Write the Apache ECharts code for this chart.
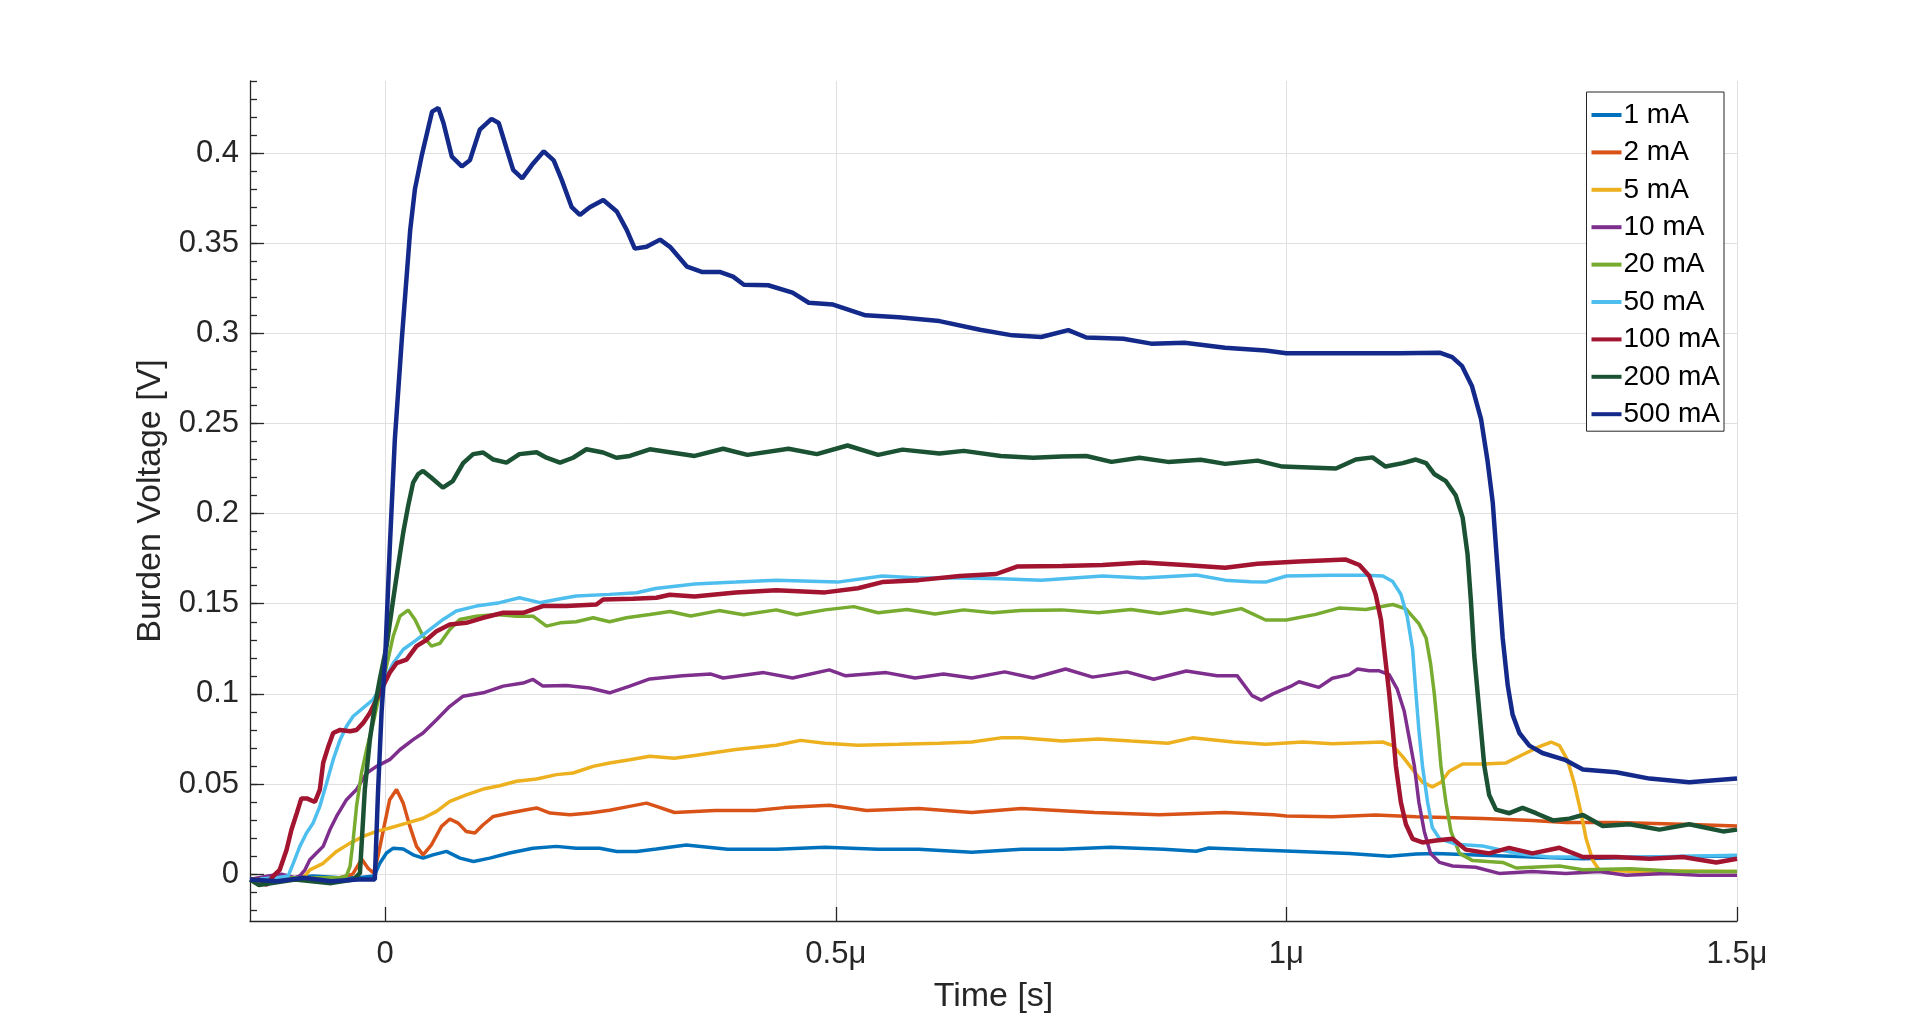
<!DOCTYPE html>
<html>
<head>
<meta charset="utf-8">
<script src="https://cdn.jsdelivr.net/npm/echarts@6/dist/echarts.min.js"></script>
<style>
html,body{margin:0;padding:0;background:#fff;}
#chart{width:1920px;height:1036px;}
</style>
</head>
<body>
<div id="chart"></div>
<script>
// time in microseconds, voltage in volts
const seriesNames = ['1 mA','2 mA','5 mA','10 mA','20 mA','50 mA','100 mA','200 mA','500 mA'];
const seriesColors = ['#0072BD','#D95319','#EDB120','#7E2F8E','#77AC30','#4DBEEE','#A2142F','#1B5234','#142A8A'];
const xTicks = [0, 0.5, 1, 1.5];
const yMajorTicks = [0, 0.05, 0.1, 0.15, 0.2, 0.25, 0.3, 0.35, 0.4];
const yMinorTicks = [-0.02,-0.01,0,0.01,0.02,0.03,0.04,0.05,0.06,0.07,0.08,0.09,0.1,0.11,0.12,0.13,0.14,0.15,0.16,0.17,0.18,0.19,0.2,0.21,0.22,0.23,0.24,0.25,0.26,0.27,0.28,0.29,0.3,0.31,0.32,0.33,0.34,0.35,0.36,0.37,0.38,0.39,0.4,0.41,0.42,0.43,0.44];

const s1 = [[-0.15,-0.003],[-0.1,-0.002],[-0.08,-0.001],[-0.05,-0.002],[-0.03,-0.002],[-0.012,-0.001],[-0.006,0.006],[0.0015,0.0117],[0.009,0.0144],[0.02,0.0139],[0.031,0.0107],[0.042,0.0089],[0.053,0.0107],[0.068,0.0126],[0.083,0.0089],[0.098,0.007],[0.116,0.0089],[0.138,0.0117],[0.164,0.0144],[0.19,0.0154],[0.212,0.0144],[0.238,0.0144],[0.257,0.0126],[0.279,0.0126],[0.301,0.0139],[0.334,0.0162],[0.38,0.0138],[0.434,0.0138],[0.488,0.0149],[0.547,0.0138],[0.592,0.0138],[0.651,0.0122],[0.706,0.0138],[0.751,0.0138],[0.805,0.0149],[0.864,0.0138],[0.9,0.0127],[0.914,0.0145],[0.955,0.0136],[1.014,0.0126],[1.07,0.0115],[1.114,0.0099],[1.144,0.0112],[1.166,0.0115],[1.218,0.0105],[1.273,0.0095],[1.329,0.0085],[1.403,0.0095],[1.5,0.01]];
const s2 = [[-0.15,-0.003],[-0.1,-0.002],[-0.05,-0.002],[-0.036,0.0],[-0.026,0.0083],[-0.019,0.0033],[-0.013,0.0006],[-0.008,0.0098],[-0.002,0.0246],[0.005,0.0413],[0.0126,0.0469],[0.02,0.0394],[0.0274,0.0265],[0.0348,0.0154],[0.042,0.0107],[0.0514,0.0163],[0.0625,0.0265],[0.0717,0.0306],[0.081,0.0283],[0.09,0.0237],[0.0995,0.0228],[0.1087,0.0274],[0.12,0.032],[0.138,0.0339],[0.157,0.0357],[0.168,0.0367],[0.183,0.0339],[0.205,0.033],[0.227,0.0339],[0.249,0.0354],[0.271,0.0376],[0.29,0.0394],[0.301,0.0376],[0.321,0.0342],[0.366,0.0353],[0.411,0.0353],[0.443,0.0369],[0.493,0.0382],[0.534,0.0353],[0.592,0.0364],[0.651,0.0342],[0.706,0.0364],[0.787,0.0342],[0.859,0.033],[0.932,0.0342],[0.986,0.033],[1.0,0.0322],[1.051,0.0318],[1.099,0.0328],[1.144,0.0318],[1.218,0.0308],[1.273,0.0298],[1.31,0.0287],[1.366,0.0287],[1.44,0.0277],[1.5,0.0267]];
const s5 = [[-0.15,-0.003],[-0.1,-0.002],[-0.089,-0.001],[-0.0836,0.0024],[-0.0688,0.006],[-0.054,0.0126],[-0.039,0.0172],[-0.0244,0.0209],[-0.0096,0.0237],[0.005,0.0256],[0.0237,0.0283],[0.042,0.031],[0.057,0.0348],[0.0717,0.0404],[0.09,0.044],[0.1087,0.0472],[0.127,0.049],[0.1457,0.0515],[0.168,0.0528],[0.19,0.0552],[0.2085,0.0561],[0.2307,0.0598],[0.249,0.0617],[0.2714,0.0635],[0.2936,0.0654],[0.3207,0.0643],[0.3434,0.0658],[0.389,0.0692],[0.434,0.0715],[0.461,0.0742],[0.488,0.0726],[0.5245,0.0715],[0.57,0.072],[0.615,0.0726],[0.651,0.0733],[0.683,0.0756],[0.7055,0.0756],[0.751,0.0738],[0.7915,0.0749],[0.8277,0.0738],[0.8685,0.0726],[0.8957,0.0756],[0.941,0.0733],[0.977,0.072],[1.018,0.0733],[1.051,0.0723],[1.107,0.0733],[1.118,0.0713],[1.129,0.0652],[1.14,0.0581],[1.151,0.051],[1.162,0.0484],[1.1715,0.051],[1.1807,0.0571],[1.1956,0.0611],[1.2178,0.0611],[1.2437,0.0617],[1.262,0.0662],[1.28,0.0706],[1.2937,0.0733],[1.303,0.0713],[1.312,0.0632],[1.3196,0.05],[1.327,0.0338],[1.3326,0.0196],[1.34,0.0075],[1.347,0.0024],[1.384,0.0014],[1.44,0.0018],[1.5,0.0014]];
const s10 = [[-0.15,-0.003],[-0.13,-0.001],[-0.115,0.0],[-0.1,-0.002],[-0.0947,-0.001],[-0.089,0.0024],[-0.0836,0.008],[-0.0762,0.0117],[-0.0688,0.0154],[-0.0614,0.0246],[-0.054,0.032],[-0.0429,0.0413],[-0.0318,0.0469],[-0.0207,0.056],[-0.0096,0.0598],[0.005,0.0635],[0.0163,0.069],[0.031,0.0746],[0.042,0.0783],[0.057,0.0857],[0.0717,0.0931],[0.0865,0.0987],[0.1087,0.1006],[0.131,0.1043],[0.153,0.106],[0.164,0.108],[0.175,0.1043],[0.201,0.1046],[0.227,0.1033],[0.249,0.1006],[0.2714,0.1043],[0.2936,0.1083],[0.33,0.11],[0.3615,0.111],[0.375,0.1088],[0.42,0.1118],[0.452,0.1088],[0.4928,0.1133],[0.511,0.11],[0.556,0.1118],[0.588,0.1088],[0.6195,0.111],[0.651,0.1088],[0.6874,0.1122],[0.719,0.1088],[0.755,0.1138],[0.785,0.1093],[0.823,0.1122],[0.8527,0.1081],[0.889,0.1127],[0.923,0.11],[0.9455,0.11],[0.962,0.099],[0.972,0.0965],[0.985,0.1],[1.004,0.104],[1.014,0.1067],[1.036,0.1036],[1.051,0.1087],[1.0696,0.1107],[1.079,0.1138],[1.092,0.1128],[1.103,0.1128],[1.114,0.1107],[1.123,0.1026],[1.1307,0.0905],[1.136,0.0763],[1.142,0.06],[1.147,0.0399],[1.153,0.0237],[1.16,0.0115],[1.17,0.0065],[1.1844,0.0045],[1.21,0.0038],[1.236,0.0004],[1.273,0.0014],[1.31,0.0004],[1.347,0.0014],[1.377,-0.0006],[1.421,0.0004],[1.458,-0.0006],[1.5,-0.0006]];
const s20 = [[-0.15,-0.003],[-0.1,-0.002],[-0.05,-0.002],[-0.043,-0.001],[-0.039,0.0043],[-0.0355,0.019],[-0.0318,0.0376],[-0.0263,0.056],[-0.0207,0.069],[-0.0133,0.0839],[-0.006,0.1006],[0.0015,0.1154],[0.0089,0.132],[0.0163,0.1431],[0.0255,0.1465],[0.033,0.1413],[0.042,0.132],[0.0514,0.1265],[0.0606,0.128],[0.0717,0.1357],[0.0828,0.1413],[0.101,0.1431],[0.1235,0.144],[0.1457,0.1431],[0.164,0.1431],[0.179,0.1376],[0.194,0.1394],[0.212,0.14],[0.2307,0.1422],[0.249,0.14],[0.2677,0.1422],[0.2936,0.144],[0.316,0.1457],[0.339,0.1432],[0.3705,0.1462],[0.3977,0.1439],[0.434,0.1466],[0.4565,0.1439],[0.488,0.1466],[0.52,0.1484],[0.547,0.145],[0.579,0.1468],[0.61,0.1443],[0.642,0.1466],[0.674,0.145],[0.7055,0.1462],[0.751,0.1466],[0.7915,0.145],[0.8277,0.1468],[0.8594,0.1446],[0.889,0.1468],[0.918,0.1443],[0.95,0.1473],[0.977,0.141],[1.0,0.141],[1.0326,0.1441],[1.058,0.1476],[1.088,0.1468],[1.118,0.1496],[1.1326,0.1472],[1.147,0.139],[1.155,0.131],[1.16,0.1168],[1.164,0.1006],[1.168,0.08],[1.1715,0.06],[1.177,0.0399],[1.1826,0.0237],[1.192,0.0115],[1.2067,0.0075],[1.24,0.0065],[1.255,0.0034],[1.303,0.0045],[1.329,0.0024],[1.381,0.003],[1.44,0.0014],[1.5,0.0014]];
const s50 = [[-0.15,-0.003],[-0.12,-0.002],[-0.1076,-0.001],[-0.102,0.006],[-0.0947,0.0154],[-0.0873,0.0228],[-0.08,0.0283],[-0.0725,0.0376],[-0.065,0.0506],[-0.0577,0.0635],[-0.05,0.0746],[-0.0429,0.082],[-0.0355,0.0876],[-0.0244,0.0922],[-0.0133,0.0969],[-0.0022,0.106],[0.0089,0.117],[0.02,0.1246],[0.0348,0.13],[0.0495,0.1357],[0.0643,0.1413],[0.079,0.146],[0.101,0.1487],[0.127,0.1506],[0.149,0.1533],[0.1716,0.1506],[0.19,0.1524],[0.212,0.1543],[0.249,0.1552],[0.279,0.1561],[0.3,0.1585],[0.3434,0.161],[0.389,0.162],[0.434,0.1631],[0.502,0.162],[0.5516,0.1654],[0.592,0.1643],[0.6376,0.1643],[0.683,0.1638],[0.728,0.1631],[0.796,0.1654],[0.841,0.1643],[0.9,0.166],[0.932,0.1631],[0.96,0.1622],[0.977,0.162],[1.0,0.1654],[1.051,0.1658],[1.088,0.1658],[1.107,0.1654],[1.118,0.1623],[1.127,0.1553],[1.134,0.1431],[1.14,0.1249],[1.1437,0.1006],[1.147,0.08],[1.151,0.06],[1.1567,0.0399],[1.162,0.0257],[1.17,0.0196],[1.188,0.0166],[1.2178,0.0156],[1.255,0.0115],[1.292,0.0095],[1.329,0.0095],[1.403,0.0095],[1.5,0.0105]];
const s100 = [[-0.15,-0.003],[-0.14,-0.003],[-0.1316,-0.006],[-0.124,-0.001],[-0.117,0.0024],[-0.1094,0.0135],[-0.104,0.0246],[-0.098,0.034],[-0.093,0.042],[-0.087,0.042],[-0.078,0.04],[-0.0725,0.0469],[-0.0688,0.0617],[-0.063,0.071],[-0.0577,0.0783],[-0.05,0.08],[-0.039,0.0793],[-0.0318,0.08],[-0.0244,0.0839],[-0.017,0.0894],[-0.0096,0.0969],[-0.0022,0.1043],[0.005,0.1117],[0.0126,0.117],[0.0237,0.119],[0.0348,0.1265],[0.046,0.13],[0.057,0.1348],[0.0717,0.1385],[0.09,0.1394],[0.1087,0.1422],[0.131,0.145],[0.153,0.145],[0.175,0.1487],[0.201,0.1487],[0.2344,0.1496],[0.2418,0.1524],[0.275,0.1528],[0.301,0.1533],[0.3158,0.155],[0.3434,0.154],[0.389,0.1563],[0.434,0.1575],[0.488,0.1563],[0.5245,0.1586],[0.5516,0.162],[0.592,0.1631],[0.6376,0.1654],[0.678,0.1665],[0.701,0.1706],[0.751,0.171],[0.796,0.1715],[0.841,0.1729],[0.8866,0.1715],[0.932,0.17],[0.968,0.1722],[1.014,0.1735],[1.066,0.1745],[1.081,0.1715],[1.092,0.1654],[1.099,0.1553],[1.105,0.141],[1.1085,0.1249],[1.114,0.1006],[1.118,0.08],[1.1215,0.06],[1.127,0.0399],[1.1326,0.0277],[1.14,0.0196],[1.151,0.0176],[1.166,0.0186],[1.1844,0.0196],[1.199,0.0136],[1.225,0.0115],[1.247,0.0146],[1.273,0.0115],[1.303,0.0146],[1.329,0.0095],[1.366,0.0095],[1.403,0.0085],[1.44,0.0095],[1.477,0.0065],[1.5,0.0085]];
const s200 = [[-0.15,-0.003],[-0.14,-0.006],[-0.1,-0.003],[-0.06,-0.005],[-0.035,-0.003],[-0.028,0.0006],[-0.0226,0.0469],[-0.017,0.0746],[-0.0115,0.0931],[-0.006,0.108],[0.0015,0.1265],[0.0089,0.1524],[0.0144,0.171],[0.02,0.1894],[0.0255,0.2043],[0.031,0.2172],[0.0366,0.2219],[0.042,0.2237],[0.051,0.22],[0.064,0.2144],[0.075,0.218],[0.0865,0.228],[0.0976,0.233],[0.1087,0.2339],[0.12,0.23],[0.1346,0.2283],[0.149,0.233],[0.168,0.234],[0.179,0.231],[0.194,0.2283],[0.2085,0.231],[0.2233,0.2357],[0.2418,0.2339],[0.2566,0.231],[0.2714,0.232],[0.2936,0.2357],[0.3434,0.232],[0.375,0.236],[0.402,0.2326],[0.4475,0.236],[0.479,0.233],[0.513,0.2378],[0.547,0.2326],[0.574,0.2355],[0.615,0.2333],[0.642,0.2348],[0.683,0.232],[0.719,0.231],[0.751,0.2317],[0.778,0.232],[0.806,0.2287],[0.837,0.231],[0.8685,0.2287],[0.905,0.2299],[0.932,0.2276],[0.968,0.2294],[0.9956,0.2261],[1.055,0.225],[1.077,0.23],[1.0956,0.2312],[1.11,0.2261],[1.129,0.228],[1.1437,0.23],[1.155,0.228],[1.164,0.222],[1.177,0.218],[1.188,0.21],[1.1956,0.1978],[1.201,0.1775],[1.2048,0.151],[1.2085,0.121],[1.214,0.0905],[1.2196,0.06],[1.225,0.0439],[1.2326,0.0358],[1.2474,0.0338],[1.262,0.0368],[1.277,0.0338],[1.2956,0.0298],[1.314,0.0308],[1.329,0.0328],[1.351,0.0267],[1.3807,0.0277],[1.414,0.0247],[1.447,0.0277],[1.4844,0.0237],[1.5,0.0247]];
const s500 = [[-0.15,-0.003],[-0.12,-0.004],[-0.09,-0.002],[-0.06,-0.004],[-0.03,-0.003],[-0.0115,-0.003],[-0.008,0.045],[-0.004,0.09],[0,0.12],[0.005,0.18],[0.0107,0.241],[0.0185,0.297],[0.0277,0.357],[0.033,0.38],[0.0407,0.399],[0.052,0.423],[0.059,0.425],[0.0647,0.4167],[0.074,0.398],[0.085,0.3926],[0.094,0.396],[0.105,0.413],[0.118,0.419],[0.126,0.4167],[0.135,0.402],[0.142,0.3907],[0.152,0.386],[0.163,0.3935],[0.176,0.401],[0.187,0.396],[0.196,0.385],[0.207,0.37],[0.216,0.3657],[0.227,0.37],[0.242,0.374],[0.257,0.3676],[0.268,0.3574],[0.277,0.347],[0.29,0.348],[0.305,0.352],[0.316,0.348],[0.335,0.337],[0.352,0.334],[0.372,0.334],[0.386,0.3315],[0.398,0.327],[0.425,0.3267],[0.452,0.3226],[0.47,0.317],[0.497,0.316],[0.533,0.31],[0.57,0.309],[0.615,0.3068],[0.66,0.302],[0.696,0.2989],[0.728,0.298],[0.758,0.3018],[0.778,0.2977],[0.819,0.297],[0.85,0.2943],[0.887,0.2948],[0.932,0.292],[0.977,0.2905],[1.0,0.289],[1.07,0.2889],[1.125,0.2889],[1.17,0.2893],[1.184,0.2868],[1.195,0.2818],[1.206,0.2706],[1.216,0.2524],[1.223,0.23],[1.229,0.206],[1.234,0.1715],[1.24,0.131],[1.2456,0.1047],[1.251,0.0885],[1.2585,0.0783],[1.2696,0.0713],[1.284,0.0672],[1.31,0.0632],[1.329,0.058],[1.366,0.0565],[1.403,0.053],[1.447,0.051],[1.5,0.053]];

const allData = [s1, s2, s5, s10, s20, s50, s100, s200, s500];
const lineWidths = [3.5, 3.5, 3.5, 3.5, 3.5, 3.5, 4.5, 4.5, 4.5];

const FONT = 'Liberation Sans, Arial, Helvetica, sans-serif';
const chart = echarts.init(document.getElementById('chart'), null, {renderer: 'canvas'});

const option = {
  backgroundColor: '#ffffff',
  animation: false,
  textStyle: {fontFamily: FONT},
  grid: {left: 250, right: 183, top: 81, bottom: 115, containLabel: false},
  legend: {
    orient: 'vertical',
    right: 196,
    top: 92,
    data: seriesNames,
    icon: 'rect',
    itemWidth: 30,
    itemHeight: 4,
    itemGap: 9.4,
    padding: [9, 4, 3, 5],
    borderColor: '#262626',
    borderWidth: 1,
    backgroundColor: '#ffffff',
    textStyle: {fontFamily: FONT, fontSize: 28, color: '#000000', padding: [0, 0, 0, -3]}
  },
  xAxis: {
    type: 'value',
    min: -0.15,
    max: 1.5,
    name: 'Time [s]',
    nameLocation: 'middle',
    nameGap: 59,
    nameTextStyle: {fontFamily: FONT, fontSize: 34, color: '#262626'},
    axisLine: {show: true, onZero: false, lineStyle: {color: '#262626', width: 1.3}},
    axisTick: {show: true, inside: true, length: 14, customValues: xTicks, lineStyle: {color: '#262626', width: 1.3}},
    axisLabel: {
      show: true, customValues: xTicks, margin: 18,
      fontFamily: FONT, fontSize: 31, color: '#262626',
      formatter: function (v) { return v === 0 ? '0' : v + 'μ'; }
    },
    splitLine: {show: true, lineStyle: {color: '#e0e0e0', width: 1}},
    minorTick: {show: false}
  },
  yAxis: [{
    type: 'value',
    min: -0.026,
    max: 0.44,
    position: 'left',
    name: 'Burden Voltage [V]',
    nameLocation: 'middle',
    nameGap: 69,
    nameTextStyle: {fontFamily: FONT, fontSize: 34, color: '#262626'},
    axisLine: {show: true, onZero: false, lineStyle: {color: '#262626', width: 1.3}},
    axisTick: {show: true, inside: true, length: 14, customValues: yMajorTicks, lineStyle: {color: '#262626', width: 1.3}},
    axisLabel: {
      show: true, customValues: yMajorTicks, margin: 11,
      fontFamily: FONT, fontSize: 31, color: '#262626',
      formatter: function (v) { return String(v); }
    },
    splitLine: {show: true, lineStyle: {color: '#e0e0e0', width: 1}}
  }, {
    type: 'value',
    min: -0.026,
    max: 0.44,
    position: 'left',
    offset: 0,
    axisLine: {show: false, onZero: false},
    axisTick: {show: true, inside: true, length: 7, customValues: yMinorTicks, lineStyle: {color: '#262626', width: 1.3}},
    axisLabel: {show: false},
    splitLine: {show: false}
  }],
  series: seriesNames.map(function (name, i) {
    return {
      name: name,
      type: 'line',
      yAxisIndex: 0,
      data: allData[i],
      showSymbol: false,
      symbol: 'none',
      color: seriesColors[i],
      lineStyle: {color: seriesColors[i], width: lineWidths[i]},
      z: 2 + i
    };
  })
};
chart.setOption(option);
</script>
</body>
</html>
